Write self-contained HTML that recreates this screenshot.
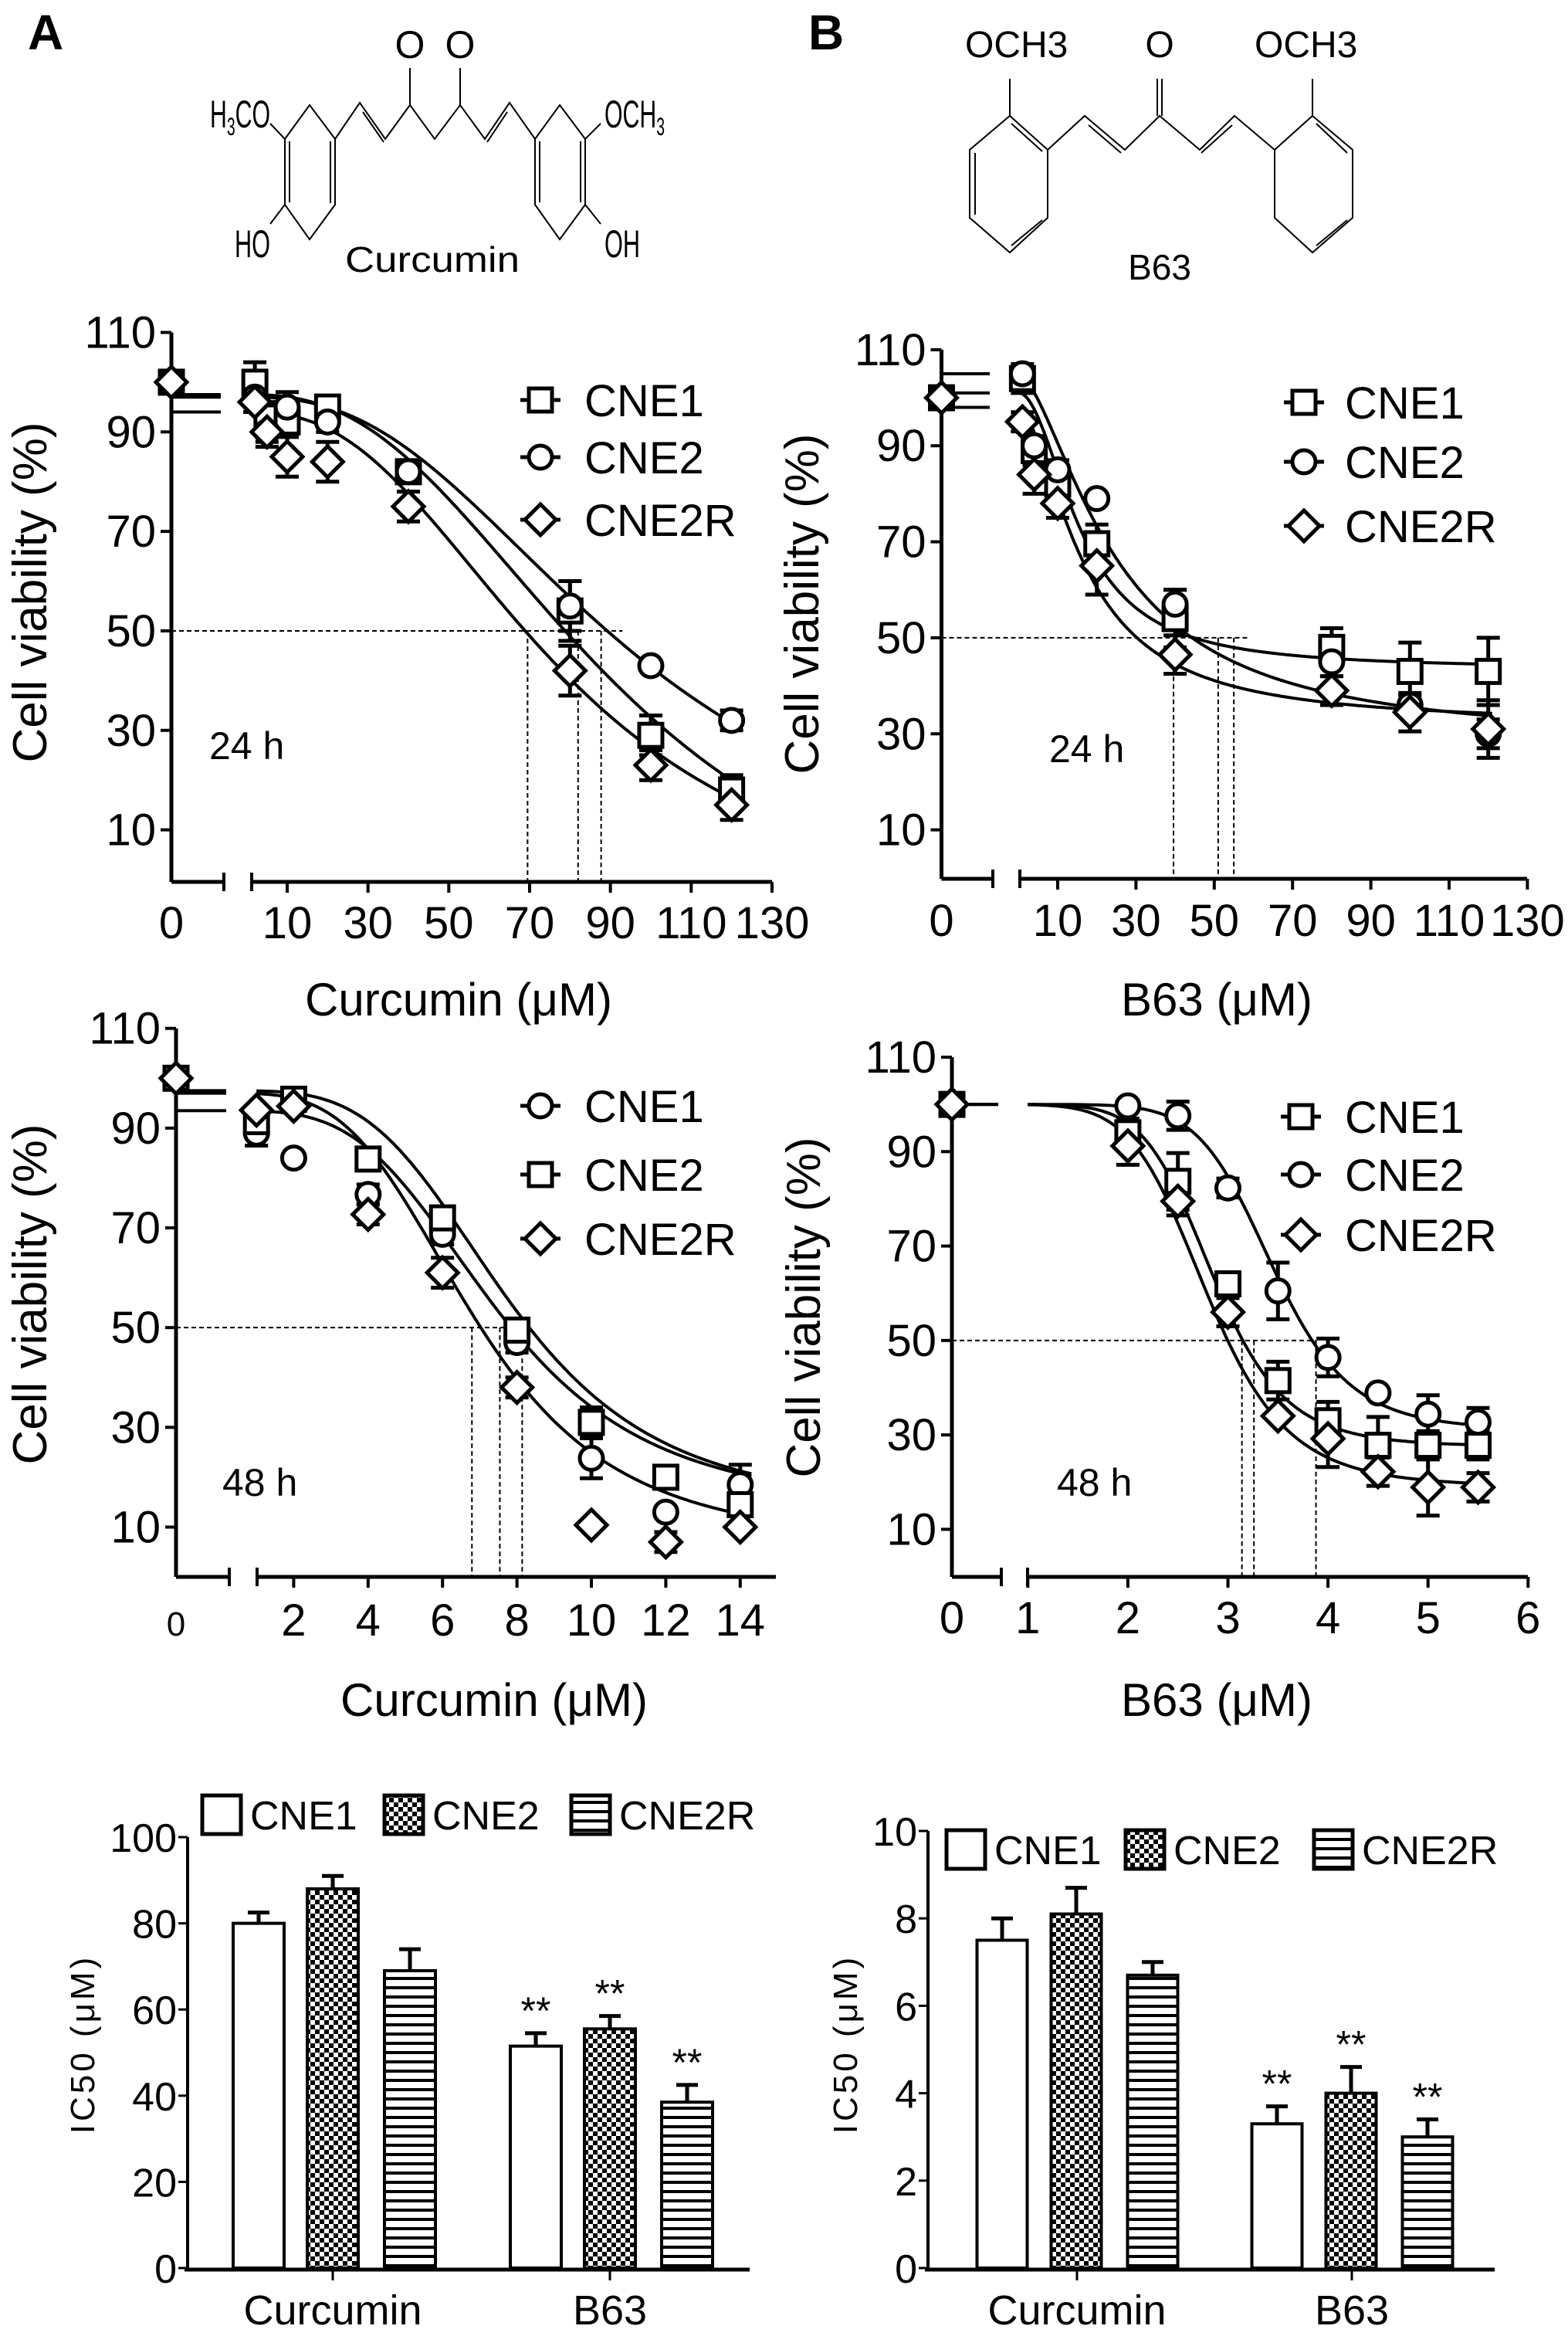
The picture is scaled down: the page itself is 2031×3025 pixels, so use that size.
<!DOCTYPE html>
<html><head><meta charset="utf-8"><style>
html,body{margin:0;padding:0;background:#fff;}
svg{display:block;font-family:"Liberation Sans",Arial,sans-serif;}
</style></head><body>
<svg id="fig" xmlns="http://www.w3.org/2000/svg" width="2031" height="3025" viewBox="0 0 2031 3025">
<defs>
<pattern id="checker" width="12" height="12" patternUnits="userSpaceOnUse"><rect width="12" height="12" fill="#fff"/><rect width="6" height="6" fill="#000"/><rect x="6" y="6" width="6" height="6" fill="#000"/></pattern>
<pattern id="stripes" width="12" height="12" patternUnits="userSpaceOnUse"><rect width="12" height="12" fill="#fff"/><rect y="4" width="12" height="4" fill="#000"/></pattern>
</defs>
<rect width="2031" height="3025" fill="#fff"/>
<text x="36" y="64" font-size="64" font-weight="bold">A</text>
<text x="1047" y="64" font-size="64" font-weight="bold">B</text>
<g stroke="#000" stroke-width="2" fill="none">
<polygon points="401,136 434,180 434,265 401,310 369,265 369,180"/>
<line x1="375" y1="262" x2="375" y2="183"/><line x1="428" y1="183" x2="428" y2="263"/>
<polygon points="725,136 758,180 758,265 725,310 693,265 693,180"/>
<line x1="699" y1="183" x2="699" y2="262"/><line x1="752" y1="183" x2="752" y2="262"/>
<polyline points="434,180 466,133 499,180 531,136 563,180 596,136 628,180 660,133 693,180"/>
<line x1="470" y1="145" x2="497" y2="184"/><line x1="657" y1="145" x2="631" y2="184"/>
<line x1="531" y1="136" x2="531" y2="88"/><line x1="596" y1="136" x2="596" y2="88"/>
<line x1="369" y1="180" x2="350" y2="160"/><line x1="758" y1="180" x2="778" y2="160"/>
<line x1="369" y1="265" x2="350" y2="290"/><line x1="758" y1="265" x2="778" y2="290"/>
</g>
<g font-size="50">
<text x="531" y="75" text-anchor="middle">O</text>
<text x="596" y="75" text-anchor="middle">O</text>
<text x="272" y="165" textLength="78" lengthAdjust="spacingAndGlyphs">H<tspan font-size="32" dy="10">3</tspan><tspan dy="-10">CO</tspan></text>
<text x="783" y="165" textLength="78" lengthAdjust="spacingAndGlyphs">OCH<tspan font-size="32" dy="10">3</tspan></text>
<text x="304" y="333" textLength="46" lengthAdjust="spacingAndGlyphs">HO</text>
<text x="783" y="333" textLength="46" lengthAdjust="spacingAndGlyphs">OH</text>
<text x="447" y="352" font-size="46" textLength="226" lengthAdjust="spacingAndGlyphs">Curcumin</text>
</g>
<g stroke="#000" stroke-width="2" fill="none">
<polygon points="1308,150 1357,194 1357,282 1308,327 1256,282 1256,194"/>
<line x1="1263" y1="198" x2="1263" y2="278"/><line x1="1350" y1="285" x2="1310" y2="318"/><line x1="1350" y1="196" x2="1310" y2="160"/>
<polygon points="1700,150 1752,194 1752,282 1700,327 1651,282 1651,194"/>
<line x1="1745" y1="198" x2="1705" y2="160"/><line x1="1745" y1="285" x2="1705" y2="318"/>
<polyline points="1357,194 1405,150 1457,194 1502,150 1554,194 1599,150 1651,194"/>
<line x1="1410" y1="162" x2="1452" y2="198"/><line x1="1596" y1="162" x2="1556" y2="198"/>
<line x1="1308" y1="150" x2="1308" y2="102"/><line x1="1700" y1="150" x2="1700" y2="102"/>
<line x1="1499" y1="150" x2="1499" y2="102"/><line x1="1505" y1="150" x2="1505" y2="102"/>
</g>
<g font-size="48">
<text x="1250" y="74">OCH3</text>
<text x="1502" y="74" text-anchor="middle">O</text>
<text x="1625" y="74">OCH3</text>
<text x="1502" y="362" text-anchor="middle" font-size="46">B63</text>
</g>
</svg>
<script>
const NS='http://www.w3.org/2000/svg';
const svg=document.getElementById('fig');
function mk(tag,attrs,parent){const e=document.createElementNS(NS,tag);for(const k in attrs)e.setAttribute(k,attrs[k]);(parent||svg).appendChild(e);return e;}

// ---------- DATA: Curcumin 24 h ----------
const a24Dose=[2,5,10,20,40,80,100,120];
const a24Cne1=[100,93,92,95,82,54,29,18];
const a24Cne1Err=[4,3,3,2,2,6,4,3];
const a24Cne2=[97,90,95,92,82,55,43,32];
const a24Cne2Err=[2,2,3,2,2,5,1,2];
const a24Cne2r=[96,90,85,84,75,42,23,15];
const a24Cne2rErr=[2,3,4,4,3,5,3,3];
const a24FitCne1=[97.5,-20,92,2.5];
const a24FitCne2=[97,-5,95,2.5];
const a24FitCne2r=[94,-10,78,2.5];
const a24Ic50=[69.5,82,87.7];
const a24Ticks=[10,30,50,70,90,110,130];
// ---------- DATA: Curcumin 48 h ----------
const a48Dose=[1,2,4,6,8,10,12,14];
const a48Cne1=[89,84,76.7,68.7,47,23.8,13,18.5];
const a48Cne1Err=[2.5,0,2,2,2,4,0,4];
const a48Cne2=[91.3,95.8,83.8,72,49.5,31,20,14.5];
const a48Cne2Err=[2,1,1,2,1,3,2,2];
const a48Cne2r=[93.6,94.4,72.7,61,38,10.4,7,10];
const a48Cne2rErr=[1,1,2,3,2,0,2,0];
const a48FitCne1=[93.5,13,7.5,3.6];
const a48FitCne2=[97.5,13,7.8,3.8];
const a48FitCne2r=[97,6,6.9,3.6];
const a48Ic50=[6.79,7.54,8.14];
const a48Ticks=[2,4,6,8,10,12,14];
// ---------- DATA: B63 24 h ----------
const b24Dose=[1,4,10,20,40,80,100,120];
const b24Cne1=[104,89,82,69.6,54,48,43,43];
const b24Cne1Err=[3,3,2,4,6,4,6,7];
const b24Cne2=[105,90,85,79,57,45,36,30];
const b24Cne2Err=[1,2,2,0,3,3,2,3];
const b24Cne2r=[95,84,78,65,46.5,39,34.5,31];
const b24Cne2rErr=[2,4,3,6,4,3,4,6];
const b24FitCne1=[101,43.5,16,2];
const b24FitCne2=[105,28,25,1.6];
const b24FitCne2r=[98,32,17,1.7];
const b24Ic50=[39.6,51,55];
const b24Ticks=[10,30,50,70,90,110,130];
// ---------- DATA: B63 48 h ----------
const b48Dose=[2,2.5,3,3.5,4,4.5,5,5.5];
const b48Cne1=[94,83.7,62,41.5,33,27.8,27.8,27.8];
const b48Cne1Err=[3,6,2,4,4,6,3,3];
const b48Cne2=[99.7,97.6,82.3,60.5,46.4,38.9,34.4,32.7];
const b48Cne2Err=[0,3,2,6,4,0,4,3];
const b48Cne2r=[91.2,79.5,56,34,29.2,22.2,18.9,18.9];
const b48Cne2rErr=[4,3,3,0,6,3,6,3];
const b48FitCne1=[100,27.5,2.85,8];
const b48FitCne2=[100,31,3.45,9];
const b48FitCne2r=[100,19,2.8,7];
const b48Ic50=[3.14,3.26,3.88];
const b48Ticks=[1,2,3,4,5,6];
const yTicks=[10,30,50,70,90,110];
// ---------- DATA: IC50 bars ----------
const barCats=['Curcumin','B63'];
const barSeries=['CNE1','CNE2','CNE2R'];
const curBarCne1=[80,51.5];
const curBarCne2=[88,55.5];
const curBarCne2r=[69,38.5];
const curBarCne1Err=[2.5,3];
const curBarCne2Err=[3,3];
const curBarCne2rErr=[5,4];
const curTicks=[0,20,40,60,80,100];
const b63BarCne1=[7.5,3.3];
const b63BarCne2=[8.1,4.0];
const b63BarCne2r=[6.7,3.0];
const b63BarCne1Err=[0.5,0.4];
const b63BarCne2Err=[0.6,0.6];
const b63BarCne2rErr=[0.3,0.4];
const b63Ticks=[0,2,4,6,8,10];
const starFlags=[false,true];

function fit(p,x){return p[1]+(p[0]-p[1])/(1+Math.pow(x/p[2],p[3]));}

function marker(g,type,cx,cy,name){
  let m;
  if(type==='square'){m=mk('rect',{x:cx-15,y:cy-15,width:30,height:30,fill:'#fff',stroke:'#000','stroke-width':5},g);}
  else if(type==='circle'){m=mk('circle',{cx:cx,cy:cy,r:15,fill:'#fff',stroke:'#000','stroke-width':5},g);}
  else {m=mk('polygon',{points:`${cx},${cy-20} ${cx+20},${cy} ${cx},${cy+20} ${cx-20},${cy}`,fill:'#fff',stroke:'#000','stroke-width':5},g);}
  
  
  return m;
}

function panel(c){
  const g=mk('g',{});
  
  
  const X=v=>c.xa+(v-c.va)*c.k;
  const Y=v=>c.y10-(v-10)*(c.y10-c.y110)/100;
  const ya=mk('line',{x1:c.ox,y1:Y(110),x2:c.ox,y2:c.axY,stroke:'#000','stroke-width':5},g);
  
  
  yTicks.forEach(t=>{
    const tk=mk('line',{x1:c.ox-14,y1:Y(t),x2:c.ox,y2:Y(t),stroke:'#000','stroke-width':4},g);
    
    
    const tl=mk('text',{x:c.ox-20,y:Y(t)+20,'font-size':58,'text-anchor':'end'},g);
    
    
    tl.textContent=t;
  });
  const xl=mk('line',{x1:c.ox,y1:c.axY,x2:c.leftEnd,y2:c.axY,stroke:'#000','stroke-width':5},g);
  
  
  const xr=mk('line',{x1:c.rightStart,y1:c.axY,x2:c.rightEnd,y2:c.axY,stroke:'#000','stroke-width':5},g);
  
  
  [c.leftEnd,c.rightStart].forEach(px=>{
    const bt=mk('line',{x1:px,y1:c.axY-12,x2:px,y2:c.axY+12,stroke:'#000','stroke-width':4},g);
    
    
  });
  const t0=mk('text',{x:c.ox,y:c.tickY,'font-size':c.zeroSize,'text-anchor':'middle'},g);
  
  
  t0.textContent='0';
  c.ticks.forEach(t=>{
    const tk=mk('line',{x1:X(t),y1:c.axY,x2:X(t),y2:c.axY+14,stroke:'#000','stroke-width':4},g);
    
    
    const tl=mk('text',{x:X(t),y:c.tickY,'font-size':58,'text-anchor':'middle'},g);
    
    
    tl.textContent=t;
  });
  const yt=mk('text',{x:0,y:0,'font-size':62,'text-anchor':'middle',transform:`translate(${c.ytX},${c.ytY}) rotate(-90)`},g);
  
  
  yt.textContent='Cell viability (%)';
  const xt=mk('text',{x:c.xtX,y:c.xtY,'font-size':60,'text-anchor':'middle'},g);
  
  
  xt.textContent=c.xTitle;
  const tm=mk('text',{x:c.timeX,y:c.timeY,'font-size':50},g);
  
  
  tm.textContent=c.time;
  const hd=mk('line',{x1:c.ox,y1:Y(50),x2:X(c.hEnd),y2:Y(50),stroke:'#000','stroke-width':2,'stroke-dasharray':'6,4'},g);
  
  
  c.ic50.forEach(v=>{
    const vd=mk('line',{x1:X(v),y1:Y(50),x2:X(v),y2:c.axY,stroke:'#000','stroke-width':2,'stroke-dasharray':'6,4'},g);
    
    
  });
  c.series.forEach((s,si)=>{
    const lt=mk('line',{x1:c.ox,y1:Y(s.fit[0]),x2:c.leftEnd-4,y2:Y(s.fit[0]),stroke:'#000','stroke-width':4},g);
    
    
    let d='';
    for(let i=0;i<=200;i++){const v=c.cStart+(c.cEnd-c.cStart)*i/200;d+=(i?'L':'M')+X(v).toFixed(1)+','+Y(fit(s.fit,v)).toFixed(1);}
    const p=mk('path',{d:d,fill:'none',stroke:'#000','stroke-width':4},g);
    
    
  });
  c.series.forEach(s=>{
    s.dose.forEach((dv,i)=>{
      const e=s.err[i];
      if(e>0){
        const eb=mk('path',{d:`M${X(dv)},${Y(s.vals[i]+e)}V${Y(s.vals[i]-e)}M${X(dv)-15},${Y(s.vals[i]+e)}h30M${X(dv)-15},${Y(s.vals[i]-e)}h30`,stroke:'#000','stroke-width':5,fill:'none'},g);
        
        
      }
    });
  });
  c.series.forEach(s=>{
    marker(g,s.marker,c.ox,Y(100),'point-zero-'+s.name.toLowerCase());
    s.dose.forEach((dv,i)=>{marker(g,s.marker,X(dv),Y(s.vals[i]),'point-'+s.name.toLowerCase());});
  });
  c.series.forEach((s,i)=>{
    const ly=c.legY[i];
    const ll=mk('line',{x1:c.legX-26,y1:ly,x2:c.legX+26,y2:ly,stroke:'#000','stroke-width':5},g);
    
    
    marker(g,s.marker,c.legX,ly,'legend-marker-'+s.name.toLowerCase());
    const lt=mk('text',{x:c.legText,y:ly+21,'font-size':58},g);
    
    
    lt.textContent=s.name;
  });
}

panel({id:'curcumin-24h-chart',ox:222,leftEnd:290,rightStart:326,rightEnd:1000,axY:1142,xa:372,va:10,k:5.233,y10:1074.6,y110:430.5,
  ticks:a24Ticks,tickY:1215,zeroSize:58,ytX:60,ytY:767,xtX:594,xtY:1315,xTitle:'Curcumin (μM)',time:'24 h',timeX:271,timeY:983,
  ic50:a24Ic50,hEnd:93,cStart:1.5,cEnd:121,legX:700,legText:757,legY:[518,592,673],
  series:[{name:'CNE1',marker:'square',dose:a24Dose,vals:a24Cne1,err:a24Cne1Err,fit:a24FitCne1},
          {name:'CNE2',marker:'circle',dose:a24Dose,vals:a24Cne2,err:a24Cne2Err,fit:a24FitCne2},
          {name:'CNE2R',marker:'diamond',dose:a24Dose,vals:a24Cne2r,err:a24Cne2rErr,fit:a24FitCne2r}]});
panel({id:'curcumin-48h-chart',ox:228,leftEnd:297,rightStart:333,rightEnd:1005,axY:2042,xa:380.4,va:2,k:48.2,y10:1977.5,y110:1331.7,
  ticks:a48Ticks,tickY:2118,zeroSize:44,ytX:60,ytY:1676,xtX:640,xtY:2222,xTitle:'Curcumin (μM)',time:'48 h',timeX:288,timeY:1937,
  ic50:a48Ic50,hEnd:8.14,cStart:1,cEnd:14.3,legX:700,legText:757,legY:[1432,1521,1604],
  series:[{name:'CNE1',marker:'circle',dose:a48Dose,vals:a48Cne1,err:a48Cne1Err,fit:a48FitCne1},
          {name:'CNE2',marker:'square',dose:a48Dose,vals:a48Cne2,err:a48Cne2Err,fit:a48FitCne2},
          {name:'CNE2R',marker:'diamond',dose:a48Dose,vals:a48Cne2r,err:a48Cne2rErr,fit:a48FitCne2r}]});
panel({id:'b63-24h-chart',ox:1219.5,leftEnd:1286,rightStart:1321,rightEnd:1978,axY:1138,xa:1370,va:10,k:5.07,y10:1074.6,y110:452.9,
  ticks:b24Ticks,tickY:1212,zeroSize:58,ytX:1060,ytY:782,xtX:1576,xtY:1315,xTitle:'B63 (μM)',time:'24 h',timeX:1359,timeY:987,
  ic50:b24Ic50,hEnd:58.7,cStart:0.9,cEnd:121,legX:1689,legText:1742,legY:[521,598,681],
  series:[{name:'CNE1',marker:'square',dose:b24Dose,vals:b24Cne1,err:b24Cne1Err,fit:b24FitCne1},
          {name:'CNE2',marker:'circle',dose:b24Dose,vals:b24Cne2,err:b24Cne2Err,fit:b24FitCne2},
          {name:'CNE2R',marker:'diamond',dose:b24Dose,vals:b24Cne2r,err:b24Cne2rErr,fit:b24FitCne2r}]});
panel({id:'b63-48h-chart',ox:1233,leftEnd:1297,rightStart:1331,rightEnd:1979,axY:2042,xa:1331.3,va:1,k:129.6,y10:1980.4,y110:1369,
  ticks:b48Ticks,tickY:2115,zeroSize:58,ytX:1062,ytY:1693,xtX:1576,xtY:2222,xTitle:'B63 (μM)',time:'48 h',timeX:1369,timeY:1937,
  ic50:b48Ic50,hEnd:3.88,cStart:1,cEnd:5.6,legX:1685,legText:1742,legY:[1446,1521,1599],
  series:[{name:'CNE1',marker:'square',dose:b48Dose,vals:b48Cne1,err:b48Cne1Err,fit:b48FitCne1},
          {name:'CNE2',marker:'circle',dose:b48Dose,vals:b48Cne2,err:b48Cne2Err,fit:b48FitCne2},
          {name:'CNE2R',marker:'diamond',dose:b48Dose,vals:b48Cne2r,err:b48Cne2rErr,fit:b48FitCne2r}]});

const fills=['#fff','url(#checker)','url(#stripes)'];
function bars(c){
  const g=mk('g',{});
  
  
  const Y=v=>c.y0-(v/c.vmax)*(c.y0-c.ytop);
  const ya=mk('line',{x1:c.ox,y1:c.ytop,x2:c.ox,y2:c.y0,stroke:'#000','stroke-width':4},g);
  
  
  c.ticks.forEach(t=>{
    const tk=mk('line',{x1:c.ox-12,y1:Y(t),x2:c.ox,y2:Y(t),stroke:'#000','stroke-width':3},g);
    
    
    const tl=mk('text',{x:c.ox-14,y:Y(t)+19,'font-size':52,'text-anchor':'end'},g);
    
    
    tl.textContent=t;
  });
  const xa=mk('line',{x1:c.ox-4,y1:c.y0+2,x2:c.xEnd,y2:c.y0+2,stroke:'#000','stroke-width':5},g);
  
  
  const yt=mk('text',{x:0,y:0,'font-size':44,'text-anchor':'middle','letter-spacing':'4',transform:`translate(${c.ytX},2647) rotate(-90)`},g);
  
  
  yt.textContent='IC50 (μM)';
  barCats.forEach((cat,gi)=>{
    const gx=c.groups[gi];
    const tk=mk('line',{x1:gx,y1:c.y0,x2:gx,y2:c.y0+16,stroke:'#000','stroke-width':3},g);
    
    
    const tl=mk('text',{x:gx,y:3010,'font-size':54,'text-anchor':'middle'},g);
    
    
    tl.textContent=cat;
    c.data.forEach((arr,si)=>{
      const v=arr[gi], e=c.errs[si][gi];
      const cx=gx+c.offs[si];
      const b=mk('rect',{x:cx-c.w/2,y:Y(v),width:c.w,height:c.y0-Y(v),fill:fills[si],stroke:'#000','stroke-width':4},g);
      
      
      const eb=mk('path',{d:`M${cx},${Y(v)}V${Y(v+e)}M${cx-14},${Y(v+e)}h28`,stroke:'#000','stroke-width':5,fill:'none'},g);
      
      
      if(starFlags[gi]){
        const st=mk('text',{x:cx,y:Y(v+e)-12,'font-size':50,'text-anchor':'middle'},g);
        
        
        st.textContent='**';
      }
    });
  });
  barSeries.forEach((s,si)=>{
    const lx=c.legX[si];
    const box=mk('rect',{x:lx,y:c.legY-25,width:50,height:50,fill:fills[si],stroke:'#000','stroke-width':5},g);
    
    
    const t=mk('text',{x:lx+62,y:c.legY+19,'font-size':52},g);
    
    
    t.textContent=s;
  });
}
bars({id:'curcumin-ic50-bar-chart',ox:243,y0:2937,ytop:2379,vmax:100,xEnd:971,ticks:curTicks,ytX:122,
  groups:[431,790],offs:[-96,0,100],w:66,
  data:[curBarCne1,curBarCne2,curBarCne2r],errs:[curBarCne1Err,curBarCne2Err,curBarCne2rErr],
  legX:[262,498,740],legY:2350});
bars({id:'b63-ic50-bar-chart',ox:1202,y0:2937,ytop:2371,vmax:10,xEnd:1936,ticks:b63Ticks,ytX:1110,
  groups:[1395,1751],offs:[-97,-1,98],w:65,
  data:[b63BarCne1,b63BarCne2,b63BarCne2r],errs:[b63BarCne1Err,b63BarCne2Err,b63BarCne2rErr],
  legX:[1226,1458,1702],legY:2395});
</script>
</body></html>
